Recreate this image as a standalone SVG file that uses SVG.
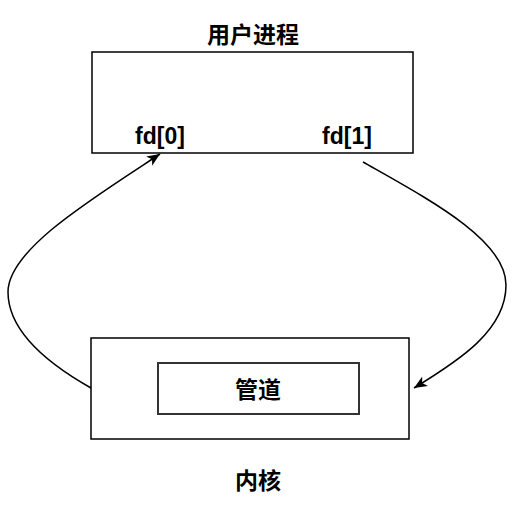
<svg xmlns="http://www.w3.org/2000/svg" width="528" height="507" viewBox="0 0 528 507">
<style>
.box{fill:#fff;stroke:#000;stroke-width:1.5}
.inner{fill:#fff;stroke:#333;stroke-width:2}
.lbl{font-family:"Liberation Sans","Noto Sans CJK SC",sans-serif;font-size:23px;font-weight:bold;fill:#000;text-anchor:middle}
.cjk{font-family:"Noto Sans CJK SC",sans-serif;font-size:23px;font-weight:bold;fill:#000;text-anchor:middle}
.edge{fill:none;stroke:#000;stroke-width:1.5}
</style>
<defs>
<marker id="arr" markerUnits="userSpaceOnUse" markerWidth="14" markerHeight="14" viewBox="0 0 14 14" refX="13" refY="7" orient="auto">
<path d="M0,1.5 L13,7 L0,12.5 L3.5,7 Z" fill="#000"/>
</marker>
</defs>
<g id="user-process">
<rect class="box" x="92" y="52" width="321" height="101"/>
<text class="cjk" x="253" y="43">用户进程</text>
<text class="lbl" x="160" y="144">fd[0]</text>
<text class="lbl" x="347" y="144">fd[1]</text>
</g>
<g id="kernel">
<rect class="box" x="91" y="338" width="318" height="101"/>
<text class="cjk" x="258" y="489">内核</text>
</g>
<g id="pipe">
<rect class="inner" x="158" y="363" width="201" height="51"/>
<text class="cjk" x="258" y="398">管道</text>
</g>
<g id="connectors">
<path class="edge" d="M91,388 C45,362 8,330 8,292 C8,250 90,200 160,154" marker-end="url(#arr)"/>
<path class="edge" d="M363,162 C430,200 506,240 506,285 C506,330 460,360 414,388" marker-end="url(#arr)"/>
</g>
</svg>
